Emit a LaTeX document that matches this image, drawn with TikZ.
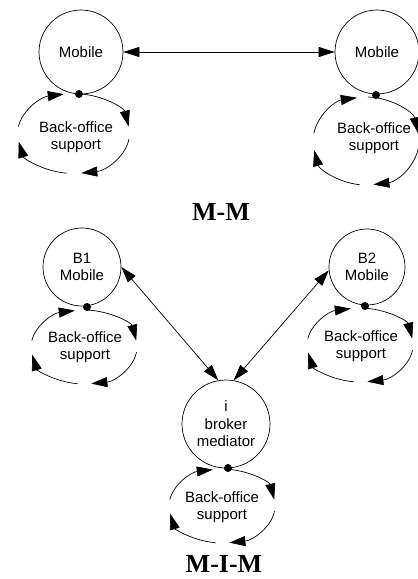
\documentclass[tikz,border=0pt]{standalone}
\usepackage{fontspec}
\newfontfamily\arialf{Liberation Sans}
\newfontfamily\timesf{Liberation Serif}
\usetikzlibrary{arrows.meta,calc}
\tikzset{
 agent/.style={draw, circle, minimum size=#1, inner sep=0pt, line width=0.7pt, font=\arialf\fontsize{15}{17.5}\selectfont, align=center},
 hubdot/.style={circle, fill=black, inner sep=0pt, minimum size=8pt},
 lbl/.style={font=\arialf\fontsize{15}{17.5}\selectfont, align=center},
 ttl/.style={font=\timesf\bfseries\fontsize{26}{30}\selectfont},
 looparrow/.style={-{Triangle[length=16pt,width=10pt]}, line width=0.7pt},
 dbl/.style={{Triangle[length=16pt,width=10pt]}-{Triangle[length=16pt,width=10pt]}, line width=0.7pt},
}
\newcommand{\boloop}[3]{%
  \draw[looparrow] ($(#1)+(88:#2pt and #3pt)$) arc[start angle=88,end angle=10,x radius=#2pt,y radius=#3pt];
  \draw[looparrow] ($(#1)+(-8:#2pt and #3pt)$) arc[start angle=-8,end angle=-82,x radius=#2pt,y radius=#3pt];
  \draw[looparrow] ($(#1)+(-97:#2pt and #3pt)$) arc[start angle=-97,end angle=-168,x radius=#2pt,y radius=#3pt];
  \draw[looparrow] ($(#1)+(170:#2pt and #3pt)$) arc[start angle=170,end angle=100,x radius=#2pt,y radius=#3pt];
}
\begin{document}
\begin{tikzpicture}[x=1pt,y=1pt]
\useasboundingbox (0,0) rectangle (418,-579);
% M-M
\node[agent=84pt] (m1) at (81,-52) {Mobile};
\node[agent=84pt] (m2) at (377,-52) {Mobile};
\draw[dbl] (m1) -- (m2);
\coordinate (c1) at (73.5,-133.5);
\boloop{c1}{56}{40}
\node[hubdot] (d1) at (79,-94) {};
\node[lbl] (t1) at (76,-137) {Back-office\\support};
\coordinate (c2) at (366,-141);
\boloop{c2}{53}{44}
\node[hubdot] (d2) at (376,-95) {};
\node[lbl] (t2) at (374,-138) {Back-office\\support};
\node[ttl] (mm) at (221,-212) {M-M};
% M-I-M
\node[agent=78pt] (b1) at (82,-267) {B1\\Mobile};
\node[agent=76pt] (b2) at (367,-267) {B2\\Mobile};
\node[agent=88pt] (ib) at (226,-424) {i\\broker\\mediator};
\draw[dbl] (b1.0) -- (ib.100);
\draw[dbl] (b2.185) -- (ib.80);
\coordinate (c3) at (84,-347);
\boloop{c3}{53}{37}
\node[hubdot] (e1) at (87,-307) {};
\node[lbl] (t3) at (85,-347) {Back-office\\support};
\coordinate (c4) at (360,-345);
\boloop{c4}{53}{37}
\node[hubdot] (e2) at (365,-306) {};
\node[lbl] (t4) at (361,-346) {Back-office\\support};
\coordinate (c5) at (222,-506);
\boloop{c5}{53}{37}
\node[hubdot] (e3) at (228,-468) {};
\node[lbl] (t5) at (222,-507) {Back-office\\support};
\node[ttl] (mim) at (224,-564) {M-I-M};
\end{tikzpicture}
\end{document}
